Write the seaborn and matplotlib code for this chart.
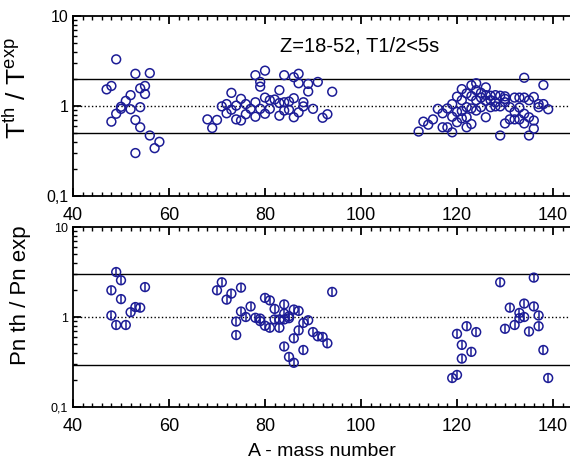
import numpy as np
import pandas as pd
import matplotlib
matplotlib.use("Agg")
import matplotlib.pyplot as plt
import matplotlib.lines as mlines
from matplotlib.ticker import LogLocator, MultipleLocator, NullFormatter, FixedLocator, FuncFormatter
import seaborn as sns

# ---- data: top panel (half-life ratio) ----
A_top = [47, 48, 49, 48, 49, 50, 50, 51, 52, 52, 53, 53, 53, 54, 54, 54, 55, 55, 56, 56, 57, 58,
         68, 69, 70, 71, 72, 72, 73, 73, 74, 74, 75, 75, 76, 76, 77, 78, 78, 78, 79, 79, 79,
         80, 80, 80, 81, 81, 82, 83, 83, 83, 84, 84, 84, 85, 85, 86, 86, 86, 87, 87, 87,
         88, 88, 89, 89, 90, 91, 92, 93, 94,
         112, 113, 114, 115, 116, 117, 117, 118, 118, 119, 119, 119, 120, 120, 120,
         121, 121, 121, 121, 122, 122, 122, 122, 123, 123, 123, 123, 124, 124, 124, 124,
         125, 125, 125, 126, 126, 126, 126, 127, 127, 127, 128, 128, 128, 129, 129, 129,
         130, 130, 130, 130, 131, 131, 132, 132, 132, 133, 133, 133, 134, 134, 134, 134,
         135, 135, 135, 136, 136, 136, 137, 137, 138, 138, 139]
R_top = [1.53, 1.67, 3.3, 0.67, 0.82, 0.93, 0.98, 1.14, 1.32, 0.92, 2.28, 0.70, 0.30, 1.57, 0.97,
         0.58, 1.67, 1.36, 2.32, 0.47, 0.34, 0.40,
         0.71, 0.57, 0.70, 0.99, 0.83, 1.05, 1.40, 0.91, 0.71, 1.01, 1.20, 0.69, 0.81, 1.05,
         0.93, 0.76, 1.10, 2.20, 1.85, 1.64, 0.93, 2.47, 1.24, 0.82, 0.93, 1.16, 1.18, 1.50,
         0.78, 1.08, 2.20, 0.89, 1.10, 0.91, 1.12, 0.75, 1.22, 2.09, 2.28, 1.79, 0.85,
         1.10, 0.99, 1.76, 1.45, 0.93, 1.85, 0.74, 0.81, 1.44,
         0.52, 0.67, 0.62, 0.71, 0.93, 0.83, 0.58, 0.94, 0.58, 0.51, 0.76, 1.05, 1.27, 0.86, 0.66,
         1.54, 1.16, 0.73, 0.88, 1.38, 0.97, 0.58, 0.75, 1.70, 1.29, 0.94, 0.63, 1.79, 1.50, 1.16, 0.89,
         1.24, 0.97, 1.40, 0.75, 1.14, 1.32, 1.61, 1.16, 0.97, 1.30, 1.32, 0.99, 1.10, 0.47, 0.99, 1.30,
         0.64, 1.20, 1.10, 1.28, 0.71, 0.97, 1.24, 0.71, 0.86, 0.71, 0.96, 1.24, 2.06, 1.24, 0.82, 0.64,
         0.47, 0.75, 1.16, 1.26, 0.56, 0.69, 0.97, 1.05, 1.71, 1.05, 0.92]

# ---- data: bottom panel (Pn ratio) ----
A_pn = [48, 48, 49, 49, 50, 50, 51, 52, 53, 54, 55,
        70, 71, 72, 73, 74, 74, 75, 75, 76, 77, 78, 79, 79, 80, 80, 81, 81, 82, 82, 83, 83,
        84, 84, 84, 84, 85, 85, 85, 86, 86, 86, 87, 87, 88, 88, 89, 90, 91, 92, 93, 94,
        119, 120, 120, 121, 121, 122, 123, 124,
        129, 130, 131, 132, 133, 133, 134, 134, 135, 136, 136, 137, 137, 138, 139]
R_pn = [1.98, 1.04, 3.16, 0.815, 2.56, 1.58, 0.815, 1.13, 1.29, 1.27, 2.15,
        1.98, 2.43, 1.56, 1.82, 0.89, 0.63, 2.12, 1.15, 1.00, 1.31, 0.98, 0.90, 0.96, 1.63, 0.80,
        1.53, 0.76, 1.23, 0.94, 0.76, 0.94, 1.38, 1.09, 0.47, 0.94, 1.02, 0.97, 0.36, 1.21, 0.58,
        0.31, 1.17, 0.71, 0.86, 0.43, 0.92, 0.68, 0.61, 0.60, 0.51, 1.90,
        0.21, 0.227, 0.65, 0.49, 0.345, 0.79, 0.41, 0.68,
        2.43, 0.74, 1.27, 0.815, 1.11, 0.97, 1.41, 1.00, 0.69, 2.74, 1.31, 1.04, 0.79, 0.43, 0.21]

top_lines = [2.0, 1.0, 0.5]
pn_lines = [3.0, 1.0, 0.29]
xticks = [40, 60, 80, 100, 120, 140]
yticks = [0.1, 1, 10]
ytick_labels = ["0,1", "1", "10"]

sns.set_theme(style="ticks", rc={
    "xtick.direction": "in", "ytick.direction": "in",
    "xtick.top": True, "xtick.bottom": True,
    "ytick.left": True, "ytick.right": False,
    "xtick.major.size": 6, "ytick.major.size": 6,
    "xtick.minor.size": 3, "ytick.minor.size": 3,
    "xtick.major.width": 1.3, "ytick.major.width": 1.3,
    "xtick.minor.width": 1.0, "ytick.minor.width": 1.0,
    "xtick.color": "black", "ytick.color": "black",
    "axes.edgecolor": "black", "axes.labelcolor": "black", "text.color": "black",
    "axes.axisbelow": False,
})
rc = plt.rcParams
rc["font.family"] = ["Liberation Sans", "DejaVu Sans"]
rc["mathtext.fontset"] = "custom"
rc["mathtext.rm"] = "Liberation Sans"

W, H = 570, 467
fig, (ax1, ax2) = plt.subplots(2, 1, figsize=(W / 100, H / 100), dpi=100)
left = 73 / W
width = (W - 73) / W
ax1.set_position([left, 1 - 196 / H, width, (196 - 16) / H])
ax2.set_position([left, 1 - 407 / H, width, (407 - 227) / H])

blue = "#1c1c96"
df_top = pd.DataFrame({"A": A_top, "R": R_top})
df_pn = pd.DataFrame({"A": A_pn, "R": R_pn})
xmax = 40 + (W - 73) / 4.8
label_map = dict(zip(yticks, ytick_labels))


def ylab(v, pos):
    for k, s in label_map.items():
        if abs(v - k) < 1e-9 * max(k, 1):
            return s
    return ""


for ax in (ax1, ax2):
    ax.set_yscale("log")

sns.scatterplot(data=df_top, x="A", y="R", ax=ax1, marker="o", s=40,
                facecolor="none", edgecolor=blue, linewidth=1.1, zorder=3, legend=False)
sns.scatterplot(data=df_pn, x="A", y="R", ax=ax2, marker="o", s=40,
                facecolor="none", edgecolor=blue, linewidth=1.1, zorder=3, legend=False)
sns.scatterplot(data=df_pn, x="A", y="R", ax=ax2, marker="|", s=40,
                color=blue, linewidth=1.1, zorder=3, legend=False)

for v in top_lines:
    ax1.axhline(v, color="black", lw=1.0, ls=":" if v == 1.0 else "-", zorder=1)
for v in pn_lines:
    ax2.axhline(v, color="black", lw=1.0, ls=":" if v == 1.0 else "-", zorder=1)

for ax, ysize in ((ax1, 11.5), (ax2, 9)):
    ax.set_xlim(40, xmax)
    ax.set_ylim(0.1, 10)
    ax.spines["right"].set_visible(False)
    for s in ("left", "top", "bottom"):
        ax.spines[s].set_linewidth(1.3)
        ax.spines[s].set_color("black")
    ax.xaxis.set_major_locator(FixedLocator(xticks))
    ax.xaxis.set_minor_locator(MultipleLocator(2))
    ax.yaxis.set_major_locator(FixedLocator(yticks))
    ax.yaxis.set_minor_locator(LogLocator(base=10, subs=np.arange(2, 10)))
    ax.yaxis.set_major_formatter(FuncFormatter(ylab))
    ax.yaxis.set_minor_formatter(NullFormatter())
    ax.xaxis.set_tick_params(which="both", direction="in", top=True, bottom=True,
                             labeltop=False, labelbottom=True, color="black")
    ax.yaxis.set_tick_params(which="both", direction="in", left=True, right=False,
                             labelleft=True, color="black")
    ax.xaxis.set_tick_params(which="major", length=6, width=1.3, labelsize=13, pad=8)
    ax.xaxis.set_tick_params(which="minor", length=3, width=1.0)
    ax.yaxis.set_tick_params(which="major", length=6, width=1.3, labelsize=ysize)
    ax.yaxis.set_tick_params(which="minor", length=3, width=1.0)
    ax.yaxis.set_zorder(4)
    ax.xaxis.set_zorder(4)

ax1.set_xlabel("")
ax1.set_ylabel(r"T$^{\mathrm{th}}$ / T$^{\mathrm{exp}}$", fontsize=19)
ax2.set_ylabel("Pn th / Pn exp", fontsize=16)
ax2.set_xlabel("A - mass number", fontsize=14, labelpad=6)
ax1.yaxis.set_label_coords(-0.085, 0.6)
ax2.yaxis.set_label_coords(-0.085, 0.62)

ax1.text(83.2, 4.7, "Z=18-52, T1/2<5s", fontsize=14.5, va="center", ha="left")

# make sure the inward left-axis tick marks are drawn
fig.canvas.draw()
for ax in (ax1, ax2):
    for ticks, size, lw in ((ax.yaxis.get_major_ticks(), 6, 1.3),
                            (ax.yaxis.get_minor_ticks(), 3, 1.0)):
        for t in ticks:
            t.tick1line.set_visible(True)
            t.tick1line.set_marker(mlines.TICKRIGHT)
            t.tick1line.set_markersize(size)
            t.tick1line.set_markeredgewidth(lw)
            t.tick1line.set_markeredgecolor("black")
            t.tick1line.set_color("black")
            t.tick1line.set_alpha(1)

fig.savefig("out.png", dpi=100)
